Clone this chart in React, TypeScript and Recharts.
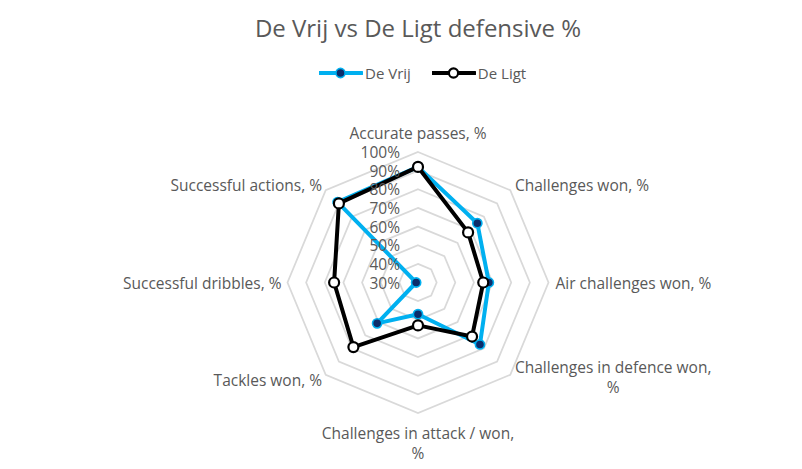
import React from 'react';
import { RadarChart, Radar, PolarGrid, PolarAngleAxis, PolarRadiusAxis } from 'recharts';

const categories = [
  'Accurate passes, %',
  'Challenges won, %',
  'Air challenges won, %',
  'Challenges in defence won, %',
  'Challenges in attack / won, %',
  'Tackles won, %',
  'Successful dribbles, %',
  'Successful actions, %',
];
const deVrij = [92, 75, 68, 77, 47, 61, 31, 91];
const deLigt = [92, 68, 65, 71, 53, 79, 75, 90];
const radiusTicks = [30, 40, 50, 60, 70, 80, 90, 100];
const title = 'De Vrij vs De Ligt defensive %';
const seriesNames = ['De Vrij', 'De Ligt'];

const data = categories.map((c, i) => ({ cat: c, vrij: deVrij[i], ligt: deLigt[i] }));

const FONT = '"Open Sans", sans-serif';
const TXT = '#595959';
const LABEL_SIZE = 15.5;
const BLUE = '#00B0F0';
const NAVY = '#0C2D6B';

let ctx: CanvasRenderingContext2D | null = null;
function measure(t: string) {
  if (!ctx) ctx = document.createElement('canvas').getContext('2d');
  if (!ctx) return t.length * 8;
  ctx.font = `${LABEL_SIZE}px "Open Sans"`;
  return ctx.measureText(t).width;
}

function splitLabel(s: string): string[] {
  if (s.length > 24 && s.endsWith(', %')) return [s.slice(0, -2), '%'];
  return [s];
}

const AngleTick = (props: any) => {
  const { x, y, payload } = props;
  const angle = payload.coordinate as number;
  const lines = splitLabel(String(payload.value));
  const cos = Math.cos((angle * Math.PI) / 180);
  const sin = Math.sin((angle * Math.PI) / 180);
  let anchor: 'start' | 'end' | 'middle' = 'middle';
  if (cos > 0.01) anchor = 'start';
  else if (cos < -0.01) anchor = 'end';
  let tx = x;
  let ty = y;
  if (anchor === 'start') tx = x - 1;
  if (anchor === 'end') tx = x + 2;
  if (Math.abs(cos) < 0.01) {
    // top / bottom
    ty = sin > 0 ? y - 11 : y + 12;
  }
  if (lines.length === 1) {
    return (
      <text x={tx} y={ty} textAnchor={anchor} dominantBaseline="central" fill={TXT} fontSize={LABEL_SIZE} fontFamily={FONT}>
        {lines[0]}
      </text>
    );
  }
  const w = measure(lines[0]);
  let centerX = tx;
  if (anchor === 'start') centerX = tx + w / 2;
  if (anchor === 'end') centerX = tx - w / 2;
  const y0 = Math.abs(cos) < 0.01 ? ty : ty - 13;
  return (
    <g>
      {lines.map((l, i) => (
        <text key={i} x={centerX} y={y0 + i * 19.5} textAnchor="middle" dominantBaseline="central" fill={TXT} fontSize={LABEL_SIZE} fontFamily={FONT}>
          {l}
        </text>
      ))}
    </g>
  );
};

const RadiusTick = (props: any) => {
  const { x, y, payload } = props;
  return (
    <text x={x - 18} y={y} textAnchor="end" dominantBaseline="central" fill={TXT} fontSize={LABEL_SIZE} fontFamily={FONT}>
      {`${payload.value}%`}
    </text>
  );
};

const VrijDot = (props: any) => {
  const { cx, cy, index } = props;
  return <circle key={`v${index}`} cx={cx} cy={cy} r={4.6} fill={NAVY} stroke={BLUE} strokeWidth={1.6} />;
};
const LigtDot = (props: any) => {
  const { cx, cy, index } = props;
  return <circle key={`l${index}`} cx={cx} cy={cy} r={5} fill="#ffffff" stroke="#000000" strokeWidth={2.2} />;
};

const LegendItem = ({ name, color, fill }: { name: string; color: string; fill: string }) => (
  <div style={{ display: 'flex', alignItems: 'center' }}>
    <svg width={44} height={14} style={{ display: 'block' }}>
      <line x1={0} y1={7} x2={43} y2={7} stroke={color} strokeWidth={4} strokeLinecap="round" />
      <circle cx={21.5} cy={7} r={4.6} fill={fill} stroke={color === BLUE ? BLUE : '#000'} strokeWidth={color === BLUE ? 1.6 : 2.2} />
    </svg>
    <span style={{ marginLeft: 2, fontFamily: FONT, fontSize: 15, color: TXT, lineHeight: '20px' }}>{name}</span>
  </div>
);

export default function App() {
  return (
    <div style={{ position: 'absolute', left: 0, top: 0, width: 802, height: 469, background: '#fff' }}>
      <div
        style={{
          position: 'absolute',
          left: 0,
          top: 10,
          width: 836,
          textAlign: 'center',
          fontFamily: FONT,
          fontSize: 24,
          color: TXT,
          lineHeight: '36px',
        }}
      >
        {title}
      </div>
      <div style={{ position: 'absolute', left: 319, top: 63, display: 'flex', alignItems: 'center', gap: 21 }}>
        <LegendItem name={seriesNames[0]} color={BLUE} fill={NAVY} />
        <LegendItem name={seriesNames[1]} color="#000000" fill="#ffffff" />
      </div>
      <div style={{ position: 'absolute', left: 0, top: 0 }}>
        <RadarChart
          width={802}
          height={469}
          data={data}
          cx={418}
          cy={282.5}
          outerRadius={130.5}
          startAngle={90}
          endAngle={-270}
          margin={{ top: 0, right: 0, bottom: 0, left: 0 }}
        >
          <PolarGrid gridType="polygon" radialLines={false} stroke="#D9D9D9" strokeWidth={1.75} />
          <PolarAngleAxis dataKey="cat" tick={AngleTick} tickLine={false} axisLine={false} tickSize={8} />
          <PolarRadiusAxis
            angle={90}
            domain={[30, 100]}
            ticks={radiusTicks}
            tick={RadiusTick}
            axisLine={false}
            tickLine={false}
            type="number"
            allowDataOverflow
          />
          <Radar
            name={seriesNames[0]}
            dataKey="vrij"
            stroke={BLUE}
            strokeWidth={4}
            fill="none"
            fillOpacity={0}
            dot={VrijDot}
            isAnimationActive={false}
            strokeLinejoin="round"
          />
          <Radar
            name={seriesNames[1]}
            dataKey="ligt"
            stroke="#000000"
            strokeWidth={4}
            fill="none"
            fillOpacity={0}
            dot={LigtDot}
            isAnimationActive={false}
            strokeLinejoin="round"
          />
        </RadarChart>
      </div>
    </div>
  );
}
